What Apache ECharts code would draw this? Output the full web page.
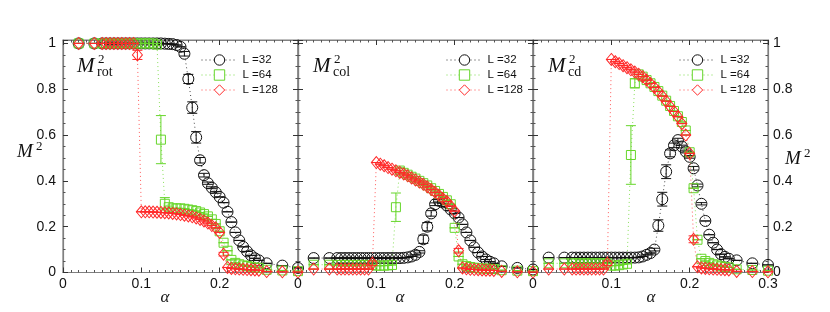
<!DOCTYPE html>
<html><head><meta charset="utf-8">
<script src="https://cdn.jsdelivr.net/npm/echarts@6/dist/echarts.min.js"></script>
<style>html,body{margin:0;padding:0;background:#fff}#c{width:830px;height:312px}</style>
</head><body><div id="c"></div>
<script>
// ---- data ----
const alpha = [0.02,0.04,0.05,0.055,0.06,0.065,0.07,0.075,0.08,0.085,0.09,0.095,0.1,0.105,0.11,0.115,0.12,0.125,0.13,0.135,0.14,0.145,0.15,0.155,0.16,0.165,0.17,0.175,0.18,0.185,0.19,0.195,0.2,0.205,0.21,0.215,0.22,0.225,0.23,0.235,0.24,0.245,0.25,0.26,0.28,0.3];
const seriesNames = ['L =32','L =64','L =128'];

const rot32 = [1,1, 1,1,1,1,1,1,1,1,1,1, 1,1,1,1,1,1,0.999,0.998,0.997,0.993, 0.985,0.955,0.845,0.72,0.59,0.49,0.425,0.39,0.37,0.35, 0.33,0.305,0.265,0.22,0.175,0.14,0.112,0.092,0.075,0.062, 0.053, 0.04,0.03,0.02];
const rot64 = [1,1, 1,1,1,1,1,1,1,1,1,1, 1,1,1,1,0.995,0.58,0.3,0.285,0.28,0.28, 0.28,0.278,0.275,0.272,0.268,0.262,0.255,0.245,0.232,0.212, 0.18,0.13,0.095,0.055,0.042,0.036,0.031,0.028,0.025,0.022, 0.02, 0.012,0.009,0.006];
const rot128 = [1,1, 1,1,1,1,1,1,1,1,1,0.95, 0.265,0.265,0.265,0.264,0.263,0.262,0.261,0.26,0.258,0.256, 0.253,0.25,0.247,0.243,0.238,0.232,0.225,0.216,0.205,0.195, 0.175,0.08,0.022,0.018,0.016,0.015,0.014,0.013,0.012,0.011, 0.01, 0.004,0.003,0.002];
const rotErr32 = [0,0, 0,0,0,0,0,0,0,0,0,0, 0,0,0,0,0,0,0,0,0,0, 0,0.01,0.02,0.025,0.025,0.012,0.008,0.005,0.004,0.004, 0,0,0,0,0,0,0,0,0,0, 0, 0,0,0];
const rotErr64 = [0,0, 0,0,0,0,0,0,0,0,0,0, 0,0,0,0,0.005,0.105,0.027,0.005,0,0, 0,0,0,0,0,0,0,0,0,0, 0,0,0,0,0,0,0,0,0,0, 0, 0,0,0];
const rotErr128 = [0,0, 0,0,0,0,0,0,0,0,0,0.02, 0,0,0,0,0,0,0,0,0,0, 0,0,0,0,0,0,0,0,0,0, 0,0.008,0,0,0,0,0,0,0,0, 0, 0,0,0];

const col32 = [0.063,0.063, 0.063,0.063,0.063,0.063,0.063,0.063,0.063,0.063,0.063,0.063, 0.063,0.063,0.063,0.063,0.063,0.063,0.063,0.064,0.066,0.07, 0.077,0.09,0.145,0.2,0.258,0.298,0.313,0.306,0.292,0.275, 0.258,0.24,0.21,0.175,0.14,0.11,0.087,0.07,0.057,0.047, 0.04, 0.027,0.02,0.013];
const col64 = [0.034,0.034, 0.033,0.033,0.033,0.033,0.033,0.033,0.033,0.033,0.033,0.033, 0.03,0.03,0.03,0.031,0.033,0.285,0.445,0.435,0.427,0.418, 0.41,0.4,0.39,0.38,0.368,0.356,0.343,0.33,0.315,0.298, 0.195,0.07,0.036,0.028,0.024,0.021,0.019,0.018,0.017,0.016, 0.015, 0.01,0.008,0.006];
const col128 = [0.015,0.015, 0.015,0.015,0.015,0.015,0.015,0.015,0.015,0.015,0.015,0.04, 0.48,0.473,0.466,0.458,0.451,0.444,0.437,0.43,0.422,0.413, 0.404,0.395,0.385,0.374,0.362,0.35,0.337,0.323,0.31,0.29, 0.268,0.095,0.02,0.016,0.014,0.013,0.012,0.011,0.01,0.01, 0.009, 0.005,0.003,0.002];
const colErr32 = [0,0, 0,0,0,0,0,0,0,0,0,0, 0,0,0,0,0,0,0,0,0,0, 0,0.005,0.018,0.018,0.012,0.006,0.005,0.004,0.004,0.004, 0,0,0,0,0,0,0,0,0,0, 0, 0,0,0];
const colErr64 = [0,0, 0,0,0,0,0,0,0,0,0,0, 0,0,0,0,0,0.062,0.012,0,0,0, 0,0,0,0,0,0,0,0,0,0, 0,0,0,0,0,0,0,0,0,0, 0, 0,0,0];
const colErr128 = [0,0, 0,0,0,0,0,0,0,0,0,0.01, 0,0,0,0,0,0,0,0,0,0, 0,0,0,0,0,0,0,0,0,0, 0,0.01,0,0,0,0,0,0,0,0, 0, 0,0,0];

const cd32 = [0.065,0.065, 0.065,0.065,0.065,0.065,0.065,0.065,0.065,0.065,0.065,0.065, 0.065,0.065,0.065,0.065,0.065,0.065,0.065,0.066,0.07,0.077, 0.085,0.1,0.205,0.32,0.44,0.52,0.555,0.578,0.55,0.528, 0.505,0.455,0.38,0.3,0.225,0.165,0.13,0.1,0.08,0.068, 0.06, 0.053,0.04,0.033];
const cd64 = [0.04,0.04, 0.04,0.04,0.04,0.04,0.04,0.04,0.04,0.04,0.04,0.04, 0.03,0.03,0.032,0.035,0.038,0.513,0.826,0.865,0.855,0.84, 0.826,0.81,0.792,0.772,0.75,0.727,0.705,0.682,0.657,0.62, 0.525,0.368,0.143,0.06,0.05,0.042,0.036,0.031,0.027,0.024, 0.022, 0.014,0.011,0.008];
const cd128 = [0.015,0.015, 0.015,0.015,0.015,0.015,0.015,0.015,0.015,0.015,0.015,0.04, 0.93,0.92,0.912,0.903,0.894,0.885,0.875,0.865,0.855,0.84, 0.825,0.808,0.79,0.77,0.748,0.725,0.703,0.68,0.65,0.6, 0.52,0.145,0.025,0.02,0.018,0.016,0.015,0.014,0.013,0.012, 0.011, 0.005,0.004,0.003];
const cdErr32 = [0,0, 0,0,0,0,0,0,0,0,0,0, 0,0,0,0,0,0,0,0,0,0, 0,0.006,0.025,0.03,0.03,0.015,0.01,0.008,0.006,0.006, 0.006,0.008,0.006,0.005,0,0,0,0,0,0, 0, 0,0,0];
const cdErr64 = [0,0, 0,0,0,0,0,0,0,0,0,0, 0,0,0,0,0,0.128,0.02,0,0,0, 0,0,0,0,0,0,0,0,0,0, 0,0,0,0,0,0,0,0,0,0, 0, 0,0,0];
const cdErr128 = [0,0, 0,0,0,0,0,0,0,0,0,0.01, 0,0,0,0,0,0,0,0,0,0, 0,0,0,0,0,0,0,0,0,0, 0,0.015,0,0,0,0,0,0,0,0, 0, 0,0,0];

const xTicks = [0, 0.1, 0.2, 0.3];
const yTicks = [0, 0.2, 0.4, 0.6, 0.8, 1];

// ---- layout / style ----
const panels = [
  {vals:[rot32,rot64,rot128], errs:[rotErr32,rotErr64,rotErr128], sub:'rot'},
  {vals:[col32,col64,col128], errs:[colErr32,colErr64,colErr128], sub:'col'},
  {vals:[cd32,cd64,cd128], errs:[cdErr32,cdErr64,cdErr128], sub:'cd'}
];
const gridLeft = [63, 298, 533], gridW = 235, gridTop = 40, gridH = 232.5;
const colors = ['#111111', '#66d62a', '#ff2a2a'];
const symbols = ['circle', 'rect', 'diamond'];
const symSizes = [11, 9, [10, 12]];
const frame = '#808080';
const sans = 'Liberation Sans, Arial, sans-serif';
const serif = 'Liberation Serif, Times New Roman, serif';

function near(v, t) { return Math.abs(v - t) < 1e-6; }
function yFmt(v) { for (const t of yTicks) if (near(v, t)) return String(t); return ''; }

const grid = [], xAxis = [], yAxis = [], series = [], legend = [], graphic = [];
panels.forEach((p, i) => {
  grid.push({left: gridLeft[i], top: gridTop, width: gridW, height: gridH, show: true, borderColor: frame, borderWidth: 1.2, backgroundColor: 'transparent'});
  const tick = {show: true, inside: true, length: 5, lineStyle: {color: '#333', width: 1}};
  const minor = {show: true, length: 2.5, lineStyle: {color: '#555', width: 1}};
  ['bottom', 'top'].forEach((pos, k) => {
    xAxis.push({
      type: 'value', gridIndex: i, position: pos, min: 0, max: 0.3, interval: 0.1,
      axisLine: {show: true, onZero: false, lineStyle: {color: frame, width: 1.2}},
      axisTick: tick, minorTick: Object.assign({splitNumber: 10}, minor), splitLine: {show: false},
      axisLabel: {show: k === 0, margin: 5, fontSize: 14, fontFamily: sans, color: '#111',
        formatter: v => { for (const t of xTicks) if (near(v, t)) { if (i < 2 && t === 0.3) return ''; return String(t); } return ''; }}
    });
  });
  ['left', 'right'].forEach((pos, k) => {
    const show = (i === 0 && k === 0) || (i === 2 && k === 1);
    yAxis.push({
      type: 'value', gridIndex: i, position: pos, min: 0, max: 1.015, interval: 0.2,
      axisLine: {show: true, onZero: false, lineStyle: {color: frame, width: 1.2}},
      axisTick: tick, minorTick: Object.assign({splitNumber: 4}, minor), splitLine: {show: false},
      axisLabel: {show: show, margin: k === 0 ? 7 : 5, fontSize: 14, fontFamily: sans, color: '#111', formatter: yFmt}
    });
  });
  p.vals.forEach((vals, s) => {
    series.push({
      type: 'line', name: seriesNames[s], xAxisIndex: 2 * i, yAxisIndex: 2 * i,
      data: alpha.map((a, j) => [a, vals[j]]),
      symbol: symbols[s], symbolSize: symSizes[s], showAllSymbol: true, clip: false,
      lineStyle: {color: colors[s], width: 0.9, type: [1, 3], opacity: 0.85},
      itemStyle: {color: 'rgba(255,255,255,0)', borderColor: colors[s], borderWidth: 1},
      emphasis: {disabled: true}, z: 3 + s, silent: true
    });
    const errs = p.errs[s];
    series.push({
      type: 'custom', name: 'err' + i + s, xAxisIndex: 2 * i, yAxisIndex: 2 * i,
      data: alpha.map((a, j) => [a, vals[j], errs[j]]),
      encode: {x: 0, y: 1}, z: 3 + s, silent: true,
      renderItem: (params, api) => {
        const x = api.value(0), y = api.value(1), e = api.value(2);
        const hi = api.coord([x, y + e]), lo = api.coord([x, y - e]);
        const hw = 5, st = {stroke: colors[s], lineWidth: 1};
        return {type: 'group', children: [
          {type: 'line', shape: {x1: hi[0], y1: hi[1], x2: lo[0], y2: lo[1]}, style: st},
          {type: 'line', shape: {x1: hi[0] - hw, y1: hi[1], x2: hi[0] + hw, y2: hi[1]}, style: st},
          {type: 'line', shape: {x1: lo[0] - hw, y1: lo[1], x2: lo[0] + hw, y2: lo[1]}, style: st}
        ]};
      }
    });
  });
  legend.push({
    data: seriesNames, orient: 'vertical', left: [196, 441, 674][i], top: 49,
    itemWidth: 36, itemHeight: 13, itemGap: 3, selectedMode: false,
    itemStyle: {color: '#ffffff', borderWidth: 1},
    lineStyle: {width: 1, type: [1, 3]},
    textStyle: {fontSize: 11.5, fontFamily: sans, color: '#111'}
  });
  // panel title M^2_sub
  const tx = [77, 313, 548][i];
  graphic.push({type: 'text', x: tx, y: 66, style: {text: 'M', font: 'italic 21px ' + serif, fill: '#111', verticalAlign: 'middle'}});
  graphic.push({type: 'text', x: tx + 21, y: 60, style: {text: '2', font: '13px ' + serif, fill: '#111', verticalAlign: 'middle'}});
  graphic.push({type: 'text', x: tx + 20, y: 72, style: {text: p.sub, font: '14px ' + serif, fill: '#111', verticalAlign: 'middle'}});
  // alpha label
  graphic.push({type: 'text', x: [165, 400, 651][i], y: 298, style: {text: 'α', font: 'italic 17px ' + serif, fill: '#111', align: 'center', verticalAlign: 'middle'}});
});
// y-axis names M^2
graphic.push({type: 'text', x: 17, y: 152, style: {text: 'M', font: 'italic 19px ' + serif, fill: '#111', verticalAlign: 'middle'}});
graphic.push({type: 'text', x: 36, y: 147, style: {text: '2', font: '13px ' + serif, fill: '#111', verticalAlign: 'middle'}});
graphic.push({type: 'text', x: 785, y: 159, style: {text: 'M', font: 'italic 19px ' + serif, fill: '#111', verticalAlign: 'middle'}});
graphic.push({type: 'text', x: 804, y: 154, style: {text: '2', font: '13px ' + serif, fill: '#111', verticalAlign: 'middle'}});

const chart = echarts.init(document.getElementById('c'), null, {renderer: 'canvas'});
chart.setOption({animation: false, backgroundColor: '#fff', grid, xAxis, yAxis, series, legend, graphic});
</script>
</body></html>
